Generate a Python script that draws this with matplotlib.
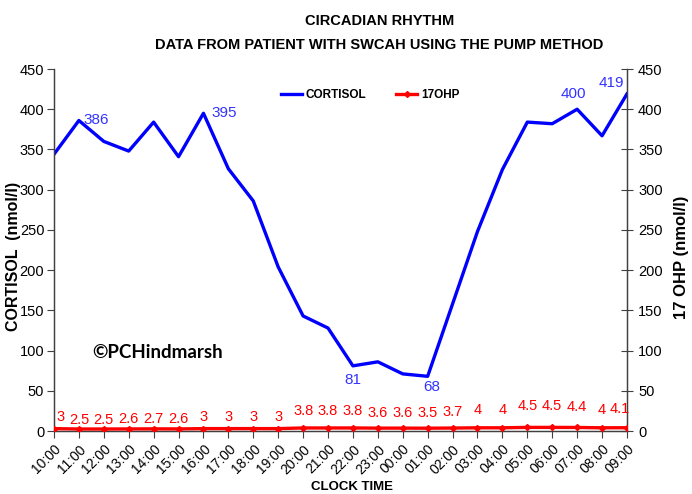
import numpy as np
from matplotlib import pyplot as plt

plt.rcParams['font.family'] = ['Liberation Sans', 'DejaVu Sans']

times = ["10:00", "11:00", "12:00", "13:00", "14:00", "15:00", "16:00", "17:00",
         "18:00", "19:00", "20:00", "21:00", "22:00", "23:00", "00:00", "01:00",
         "02:00", "03:00", "04:00", "05:00", "06:00", "07:00", "08:00", "09:00"]
cortisol = [344, 386, 360, 348, 384, 341, 395, 326, 286, 204, 143, 128,
            81, 86, 71, 68, 158, 248, 325, 384, 382, 400, 367, 419]
ohp17 = [3, 2.5, 2.5, 2.6, 2.7, 2.6, 3, 3, 3, 3, 3.8, 3.8,
         3.8, 3.6, 3.6, 3.5, 3.7, 4, 4, 4.5, 4.5, 4.4, 4, 4.1]
# which cortisol points carry a label
cort_labelled = [1, 6, 12, 15, 21, 23]

x = np.arange(len(times))

fig = plt.figure(figsize=(6.92, 4.94), dpi=100)
ax = fig.add_axes([0.078, 0.1275, 0.828, 0.7328])
ax2 = ax.twinx()

blue = "#0000ff"
red = "#ff0000"

ax.plot(x, cortisol, color=blue, lw=2.4, label="CORTISOL", zorder=3)
ax2.plot(x, ohp17, color=red, lw=2.4, marker="D", ms=3, label="17OHP", zorder=3)

for a in (ax, ax2):
    a.set_xlim(0, len(times) - 1)
    a.set_ylim(0, 450)
    a.set_yticks(np.arange(0, 451, 50))
    a.spines["top"].set_visible(False)
    for s in a.spines.values():
        s.set_color("#404040")
        s.set_linewidth(0.9)

ax.set_xticks(x)
ax.set_xticklabels(times, rotation=45, ha="right", rotation_mode="anchor", fontsize=10)
ax.tick_params(axis="x", direction="out", length=5, color="#404040", pad=3)
ax.tick_params(axis="y", direction="out", length=5, color="#404040", labelsize=10.5, pad=2)
ax2.tick_params(axis="y", direction="inout", length=9, color="#404040", labelsize=10.5)

# data labels for cortisol
offsets = {1: (3, 0, "left", "center"), 6: (6, 0, "left", "center"),
           12: (0, -10, "center", "center"), 15: (3, -8, "center", "center"),
           21: (-3, 11, "center", "center"), 23: (-11, 8, "center", "center")}
for i in cort_labelled:
    dx, dy, ha, va = offsets[i]
    ax.annotate(str(cortisol[i]), (x[i], cortisol[i]), xytext=(dx, dy),
                textcoords="offset points", ha=ha, va=va, color="#3333ff", fontsize=11)

# data labels for 17OHP
for i, v in enumerate(ohp17):
    dx = 0
    if i == 0:
        dx = 5
    if i == len(ohp17) - 1:
        dx = -5
    ax2.annotate(f"{v:g}", (x[i], v * 8.6 - 8), xytext=(dx, 0), textcoords="offset points",
                 ha="center", va="center", color=red, fontsize=10.5)

fig.text(0.548, 0.958, "CIRCADIAN RHYTHM", ha="center", va="center",
         fontsize=10.5, fontweight="bold")
fig.text(0.548, 0.908, "DATA FROM PATIENT WITH SWCAH USING THE PUMP METHOD",
         ha="center", va="center", fontsize=10.5, fontweight="bold")

fig.text(0.509, 0.014, "CLOCK TIME", ha="center", va="center", fontsize=9.5, fontweight="bold")
fig.text(0.019, 0.48, "CORTISOL  (nmol/l)", rotation=90, ha="center", va="center",
         fontsize=11.5, fontweight="bold")
fig.text(0.985, 0.48, "17 OHP (nmol/l)", rotation=90, ha="center", va="center",
         fontsize=12, fontweight="bold")

fig.text(0.133, 0.287, "©PCHindmarsh", ha="left", va="center", fontsize=13.5,
         fontweight="bold", family=["Lato", "DejaVu Sans"])

h1, l1 = ax.get_legend_handles_labels()
h2, l2 = ax2.get_legend_handles_labels()
fig.legend(h1 + h2, l1 + l2, loc="center", bbox_to_anchor=(0.535, 0.808), ncol=2,
           frameon=False, prop={"weight": "bold", "size": 8.5}, handlelength=1.8,
           handletextpad=0.3, columnspacing=2.5)

fig.savefig("out.png", dpi=100)
